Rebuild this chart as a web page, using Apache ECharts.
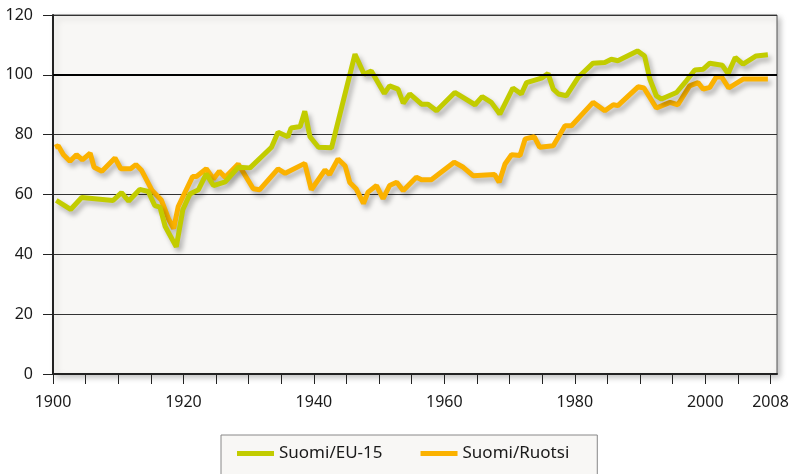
<!DOCTYPE html>
<html>
<head>
<meta charset="utf-8">
<script src="https://cdn.jsdelivr.net/npm/echarts@6/dist/echarts.min.js"></script>
<style>
  html, body { margin: 0; padding: 0; background: #fff; }
  #chart { width: 795px; height: 474px; }
</style>
</head>
<body>
<div id="chart"></div>
<script>
// values
const euYears = [1900.5, 1902.7, 1904.4, 1909.2, 1910.5, 1911.6, 1913.3, 1914.6, 1915.6, 1916.4,
  1917.2, 1918.9, 1919.9, 1921, 1922.3, 1923.5, 1924.6, 1926.4, 1928.4, 1930.2,
  1933.5, 1934.5, 1936, 1936.5, 1937.9, 1938.6, 1939.4, 1940.7, 1942.7, 1946.3,
  1947.7, 1948.8, 1950.8, 1951.6, 1952.9, 1953.7, 1954.7, 1956.5, 1957.5, 1958.8,
  1961.6, 1964.7, 1965.8, 1967.2, 1968.5, 1970.5, 1971.8, 1972.6, 1974.9, 1975.9,
  1976.7, 1977.5, 1978.7, 1980.5, 1982.8, 1984.6, 1985.6, 1986.6, 1989.6, 1990.7,
  1991.5, 1992.5, 1993.3, 1995.6, 1997.1, 1998.4, 1999.7, 2000.7, 2002.6, 2003.5,
  2004.6, 2005.8, 2007.8, 2009.6];
const euValues = [58, 55, 59, 58, 60.6, 57.8, 61.7, 61, 56.3, 55.8,
  49.3, 42.5, 54.9, 60.2, 61.6, 66.9, 63, 64.2, 69.1, 68.9,
  75.8, 80.8, 79.3, 82.2, 82.7, 87.8, 79.3, 75.8, 75.6, 106.9,
  100.2, 101.3, 93.8, 96.3, 95.2, 90.5, 93.6, 90.2, 90.2, 88,
  94.1, 90, 92.7, 90.8, 86.9, 95.6, 93.6, 97.4, 98.9, 100.4,
  95.2, 93.6, 93, 99.1, 103.9, 104.1, 105.2, 104.7, 108, 106.3,
  98.6, 93, 91.9, 94.1, 98, 101.6, 101.9, 103.9, 103.2, 100.4,
  105.8, 103.6, 106.3, 106.7];

const ruYears = [1900.3, 1900.8, 1901.6, 1902.6, 1903.6, 1904.5, 1905.7, 1906.3, 1907.5, 1909.5,
  1910.4, 1911.9, 1912.7, 1913.6, 1915.2, 1916.6, 1917.7, 1918.5, 1919.2, 1921.4,
  1922, 1923.5, 1924.6, 1925.5, 1926.4, 1928.4, 1930.7, 1931.7, 1934.5, 1935.6,
  1938.6, 1939.6, 1941.7, 1942.4, 1943.7, 1944.8, 1945.5, 1946.5, 1947.6, 1948.3,
  1949.6, 1950.6, 1951.6, 1952.7, 1953.7, 1955.7, 1956.5, 1958, 1961.5, 1962.9,
  1964.4, 1967.7, 1968.4, 1969.3, 1970.3, 1971.6, 1972.4, 1973.8, 1974.6, 1976.7,
  1978.5, 1979.5, 1982.8, 1984.6, 1985.9, 1986.6, 1989.7, 1990.6, 1992.5, 1994.6,
  1995.8, 1997.6, 1998.9, 1999.7, 2000.7, 2001.7, 2002.5, 2003.6, 2005.8, 2009.6];
const ruValues = [75.8, 76.3, 73.3, 71.1, 73.3, 71.6, 73.8, 69.1, 67.8, 72.2,
  68.6, 68.6, 70, 68, 61.3, 58.2, 51.9, 48.6, 56, 66,
  66, 68.6, 65.2, 67.8, 65.8, 70.2, 61.9, 61.6, 68.6, 67.1,
  70.4, 61.6, 68.2, 66.7, 71.9, 69.5, 64, 61.8, 57, 60.8,
  63, 58.6, 63, 64.1, 61.3, 65.8, 64.9, 64.9, 70.8, 69.1,
  66.3, 66.7, 64.1, 70.2, 73.3, 73, 78.6, 79.3, 75.8, 76.3,
  83, 83, 90.8, 88, 90, 89.7, 96, 95.6, 88.9, 90.8,
  90, 96.3, 97.4, 95.2, 95.8, 99.3, 99.3, 95.6, 98.6, 98.6];

const seriesNames = ['Suomi/EU-15', 'Suomi/Ruotsi'];
const xTicks = [1900, 1905, 1910, 1915, 1920, 1925, 1930, 1935, 1940, 1945, 1950, 1955,
  1960, 1965, 1970, 1975, 1980, 1985, 1990, 1995, 2000, 2005, 2010];
const xLabelPos = [1900, 1920, 1940, 1960, 1980, 2000, 2010];
const xLabelText = ['1900', '1920', '1940', '1960', '1980', '2000', '2008'];

const zip = (xs, ys) => xs.map((x, i) => [x, ys[i]]);

const font = 'Noto Sans';
const chart = echarts.init(document.getElementById('chart'));

const lineShadow = {
  shadowColor: 'rgba(0,0,0,0.28)',
  shadowBlur: 5,
  shadowOffsetX: 3,
  shadowOffsetY: 4
};

chart.setOption({
  animation: false,
  textStyle: { fontFamily: font },
  grid: {
    left: 53, right: 18, top: 15, bottom: 100,
    show: true,
    backgroundColor: '#f8f7f5',
    borderColor: '#555',
    borderWidth: 1,
    shadowColor: 'rgba(0,0,0,0.25)',
    shadowBlur: 6,
    shadowOffsetX: 3,
    shadowOffsetY: 3
  },
  legend: {
    data: seriesNames,
    left: 221,
    top: 435,
    padding: [10, 28, 40, 16],
    itemGap: 38,
    itemWidth: 37,
    itemHeight: 5,
    icon: 'rect',
    backgroundColor: '#f8f7f5',
    borderColor: '#888',
    borderWidth: 1,
    textStyle: { fontSize: 17, color: '#1a1a1a', fontFamily: font }
  },
  xAxis: {
    type: 'value',
    min: 1900,
    max: 2011,
    interval: 5,
    axisLine: { show: true, lineStyle: { color: '#222', width: 2 } },
    axisTick: {
      show: true, inside: false, length: 10,
      customValues: xTicks,
      lineStyle: { color: '#222', width: 1 }
    },
    axisLabel: {
      margin: 20,
      fontSize: 16,
      color: '#1a1a1a',
      customValues: xLabelPos,
      formatter: v => xLabelText[xLabelPos.indexOf(v)] || ''
    },
    splitLine: { show: false }
  },
  yAxis: {
    type: 'value',
    min: 0,
    max: 120,
    interval: 20,
    axisLine: { show: true, lineStyle: { color: '#222', width: 2 } },
    axisTick: { show: true, length: 10, lineStyle: { color: '#222', width: 1 } },
    axisLabel: { margin: 20, fontSize: 16, color: '#1a1a1a' },
    splitLine: { show: true, lineStyle: { color: '#333', width: 1 } }
  },
  series: [
    {
      name: 'ref',
      type: 'line',
      data: [],
      z: 1,
      silent: true,
      markLine: {
        silent: true,
        symbol: 'none',
        label: { show: false },
        lineStyle: { color: '#000', width: 2, type: 'solid' },
        data: [{ yAxis: 100 }]
      }
    },
    {
      name: seriesNames[0],
      type: 'line',
      z: 3,
      data: zip(euYears, euValues),
      showSymbol: false,
      color: '#c2cc00',
      lineStyle: Object.assign({ width: 5, color: '#c2cc00' }, lineShadow)
    },
    {
      name: seriesNames[1],
      type: 'line',
      z: 2,
      data: zip(ruYears, ruValues),
      showSymbol: false,
      color: '#fbb200',
      lineStyle: Object.assign({ width: 5, color: '#fbb200' }, lineShadow)
    }
  ]
});
</script>
</body>
</html>
